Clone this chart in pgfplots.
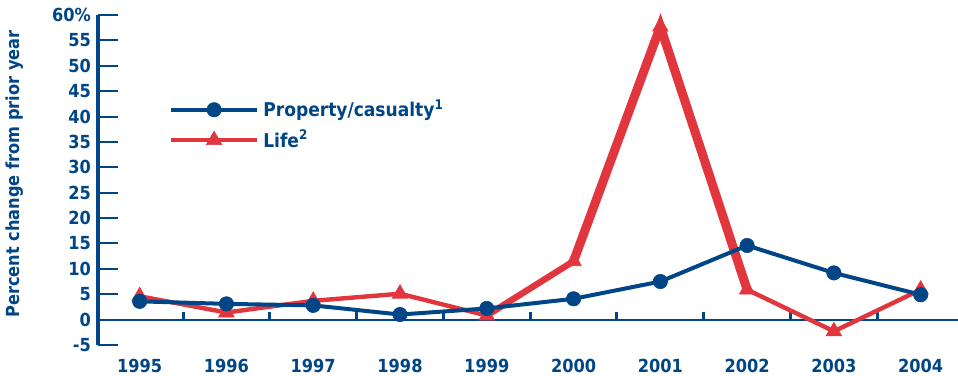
\documentclass[border=0pt]{standalone}
\usepackage{fontspec}
\setmainfont{DejaVu Sans Condensed}
\usepackage{pgfplots}
\pgfplotsset{compat=1.18}
\definecolor{iiiblue}{RGB}{0,70,135}
\definecolor{iiired}{RGB}{226,54,62}
\begin{document}
\begin{tikzpicture}
\begin{axis}[
  at={(0,0)}, anchor=south west,
  scale only axis, width=430pt, height=165pt,
  xmin=1994.52, xmax=2004.43, ymin=-5, ymax=60,
  clip=false,
  axis x line*=bottom, axis y line*=left,
  x axis line style={draw=none},
  y axis line style={line width=2pt, color=iiiblue, -},
  xtick={1995,1996,1997,1998,1999,2000,2001,2002,2003,2004},
  x tick style={draw=none},
  xticklabel style={/pgf/number format/1000 sep={}, yshift=-3.5pt},
  ytick={-5,0,5,10,15,20,25,30,35,40,45,50,55,60},
  yticklabels={-5,0,5,10,15,20,25,30,35,40,45,50,55,60\%},
  y tick style={line width=1pt, color=iiiblue},
  major tick length=10pt, tick align=inside,
  extra y ticks={0}, extra y tick labels={},
  extra y tick style={grid=major, major grid style={line width=1pt, color=iiiblue}},
  tick label style={font=\bfseries\fontsize{9}{10}\selectfont, color=iiiblue},
  /pgf/number format/assume math mode=true,
  ylabel={Percent change from prior year},
  every axis y label/.style={at={(axis description cs:-0.0965,0.518)}, rotate=90, anchor=center, font=\bfseries\fontsize{9}{10}\selectfont, color=iiiblue},
  legend style={at={(axis description cs:0.082,0.757)}, anchor=north west, draw=none, fill=none, inner sep=0pt,
    font=\bfseries\fontsize{9.5}{10}\selectfont, text=iiiblue, row sep=1pt,
    /tikz/every odd column/.append style={column sep=0pt}},
  legend cell align=left,
  reverse legend,
  legend image code/.code={\draw[mark repeat=2, mark phase=2, #1] plot coordinates {(0pt,0pt) (21.5pt,0pt) (43pt,0pt)};},
]
% half-year marks on the zero line
\addplot[ycomb, iiiblue, line width=1.5pt, mark=none, forget plot] coordinates {
  (1995.5,1.5) (1996.5,1.5) (1997.5,1.5) (1998.5,1.5) (1999.5,1.5)
  (2000.5,1.5) (2001.5,1.5) (2002.5,1.5) (2003.5,1.5)};
% thicker segments of the Life series
\addplot[iiired, line width=3.2pt, mark=none, forget plot] coordinates {(1999,0.8) (2000,11.5)};
\addplot[iiired, line width=4.5pt, mark=none, forget plot] coordinates {(2000,11.5) (2001,57.7) (2002,5.9)};
% Life
\addplot[iiired, line width=2.2pt, mark=triangle*, mark size=4.5pt, mark options={fill=iiired, line width=0.3pt}] coordinates {
  (1995,4.6) (1996,1.4) (1997,3.7) (1998,5.1) (1999,0.8)
  (2000,11.5) (2001,57.7) (2002,5.9) (2003,-2.3) (2004,5.9)};
\addlegendentry{Life\textsuperscript{2}}
% Property/casualty
\addplot[iiiblue, line width=2pt, mark=*, mark size=3.6pt, mark options={fill=iiiblue, line width=0.3pt}] coordinates {
  (1995,3.6) (1996,3.1) (1997,2.8) (1998,1.0) (1999,2.2)
  (2000,4.1) (2001,7.5) (2002,14.6) (2003,9.2) (2004,4.9)};
\addlegendentry{Property/casualty\textsuperscript{1}}
\end{axis}
\pgfresetboundingbox
\path (-49pt,-15pt) rectangle (430pt,172.5pt);
\end{tikzpicture}
\end{document}
